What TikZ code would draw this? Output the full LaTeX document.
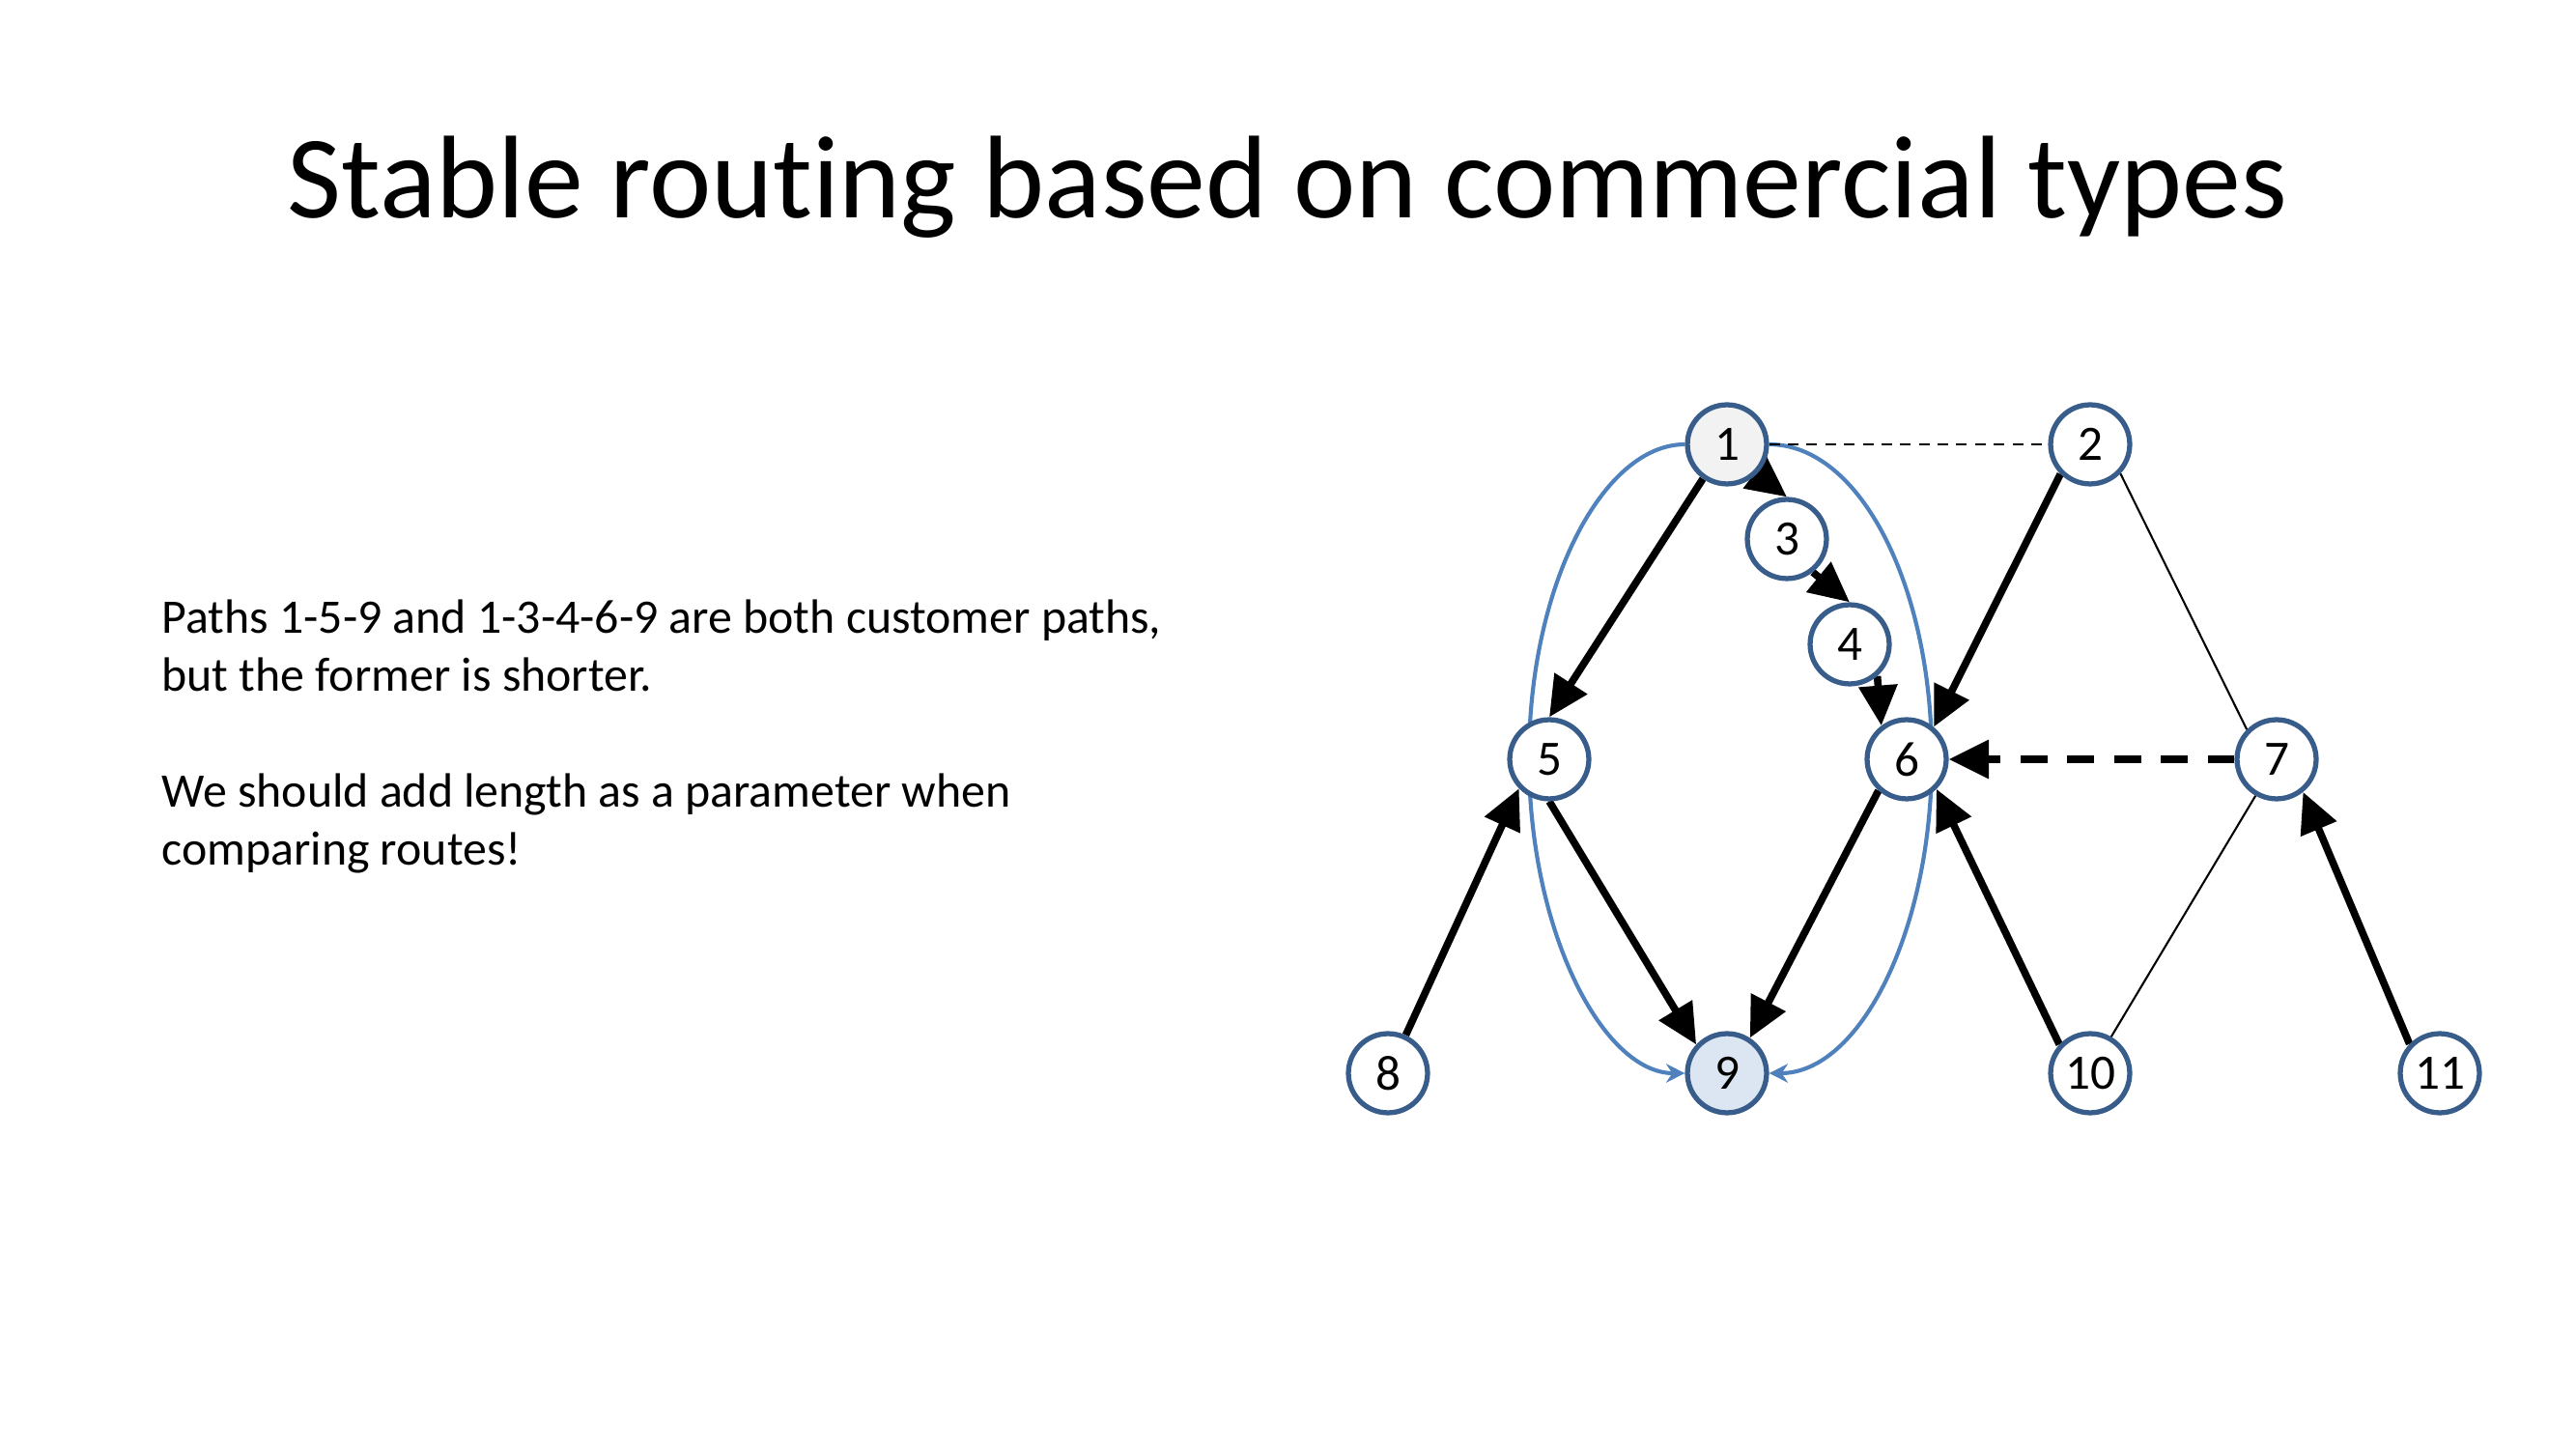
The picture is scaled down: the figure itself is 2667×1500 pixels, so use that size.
\documentclass[tikz,border=0pt]{standalone}
\usepackage{fontspec}
\setmainfont{Carlito}[Ligatures=NoCommon]
\usetikzlibrary{arrows.meta}
\definecolor{nodeborder}{RGB}{56,93,138}
\definecolor{curveblue}{RGB}{79,129,189}
\definecolor{graybg}{RGB}{242,242,242}
\definecolor{bluebg}{RGB}{220,230,242}
\pgfdeclarelayer{bg}
\pgfsetlayers{bg,main}
\begin{document}
\begin{tikzpicture}[x=0.012699cm, y=-0.012699cm,
  vtx/.style={circle, draw=nodeborder, line width=1.9pt, fill=white, minimum size=1.04cm, inner sep=0pt, font=\fontsize{18.5}{22}\selectfont},
  bigarrow/.style={line width=2.75pt, -{Triangle[length=15pt,width=14pt]}},
  thinline/.style={line width=0.75pt},
  bluecurve/.style={draw=curveblue, line width=1.5pt, -{Stealth[length=7pt,width=7pt]}},
  bodytext/.style={anchor=base west, inner sep=0pt, font=\fontsize{18}{21.6}\selectfont}]
\useasboundingbox (0,0) rectangle (2667,1500);

\node[anchor=base, inner sep=0pt, font=\fontsize{44}{52}\selectfont] (title) at (1333,226) {Stable routing based on commercial types};

\node[bodytext] (t1) at (167,656) {Paths 1-5-9 and 1-3-4-6-9 are both customer paths,};
\node[bodytext] (t2) at (167,716) {but the former is shorter.};
\node[bodytext] (t3) at (167,836) {We should add length as a parameter when};
\node[bodytext] (t4) at (167,896) {comparing routes!};

\node[vtx, fill=graybg] (n1) at (1788,460) {1};
\node[vtx] (n2) at (2164,460) {2};
\node[vtx] (n3) at (1850,558) {3};
\node[vtx] (n4) at (1915,667) {4};
\node[vtx] (n5) at (1604,786) {5};
\node[vtx] (n6) at (1974,786) {6};
\node[vtx] (n7) at (2357,786) {7};
\node[vtx] (n8) at (1437,1111) {8};
\node[vtx, fill=bluebg] (n9) at (1788,1111) {9};
\node[vtx] (n10) at (2164,1111) {10};
\node[vtx] (n11) at (2526,1111) {11};

\begin{pgfonlayer}{bg}
\draw[bluecurve] (n1.west) .. controls (1660,460) and (1583,605) .. (1583,785) .. controls (1583,965) and (1660,1111) .. (n9.west);
\draw[bluecurve] (n1.east) .. controls (1925,460) and (2000,605) .. (2000,785) .. controls (2000,965) and (1925,1111) .. (n9.east);

\draw[thinline, dash pattern=on 4pt off 3pt] (n1.east) -- (n2.west);
\draw[thinline] (n2.-44) -- (n7.135);
\draw[thinline] (n7.-120) -- (n10.60);

\draw[bigarrow] (n1.-125) -- (n5.north);
\draw[bigarrow] (n1.-45) -- (n3.north);
\draw[bigarrow] (n3.-52) -- (n4.north);
\draw[bigarrow] (n4.-49) -- (n6.127);
\draw[bigarrow] (n2.-135) -- (n6.50);
\draw[bigarrow] (n5.south) -- (n9.137);
\draw[bigarrow] (n6.-132) -- (n9.57);
\draw[bigarrow] (n10.137) -- (n6.-45);
\draw[bigarrow] (n8.65) -- (n5.-136);
\draw[bigarrow] (n11.136) -- (n7.-51);
\draw[bigarrow, dash pattern=on 10pt off 7.5pt] (n7.west) -- (n6.east);
\end{pgfonlayer}
\end{tikzpicture}
\end{document}
